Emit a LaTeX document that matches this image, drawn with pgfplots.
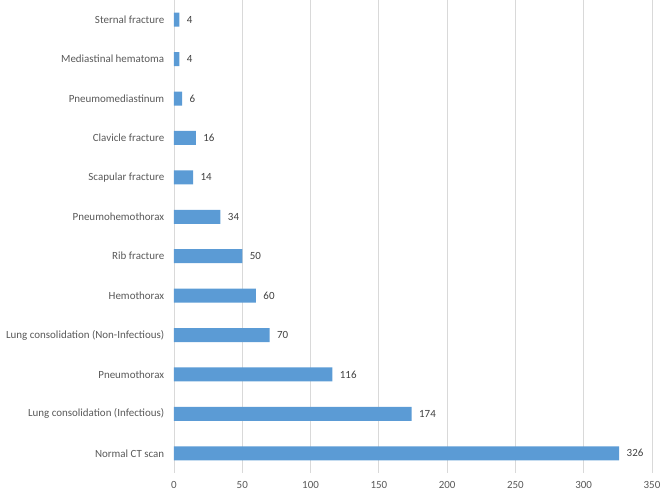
\documentclass[border=0pt]{standalone}
\usepackage{fontspec}
\setmainfont{Carlito}
\usepackage{pgfplots}
\pgfplotsset{compat=1.18}
\definecolor{barblue}{HTML}{5B9BD5}
\definecolor{gridgray}{HTML}{D9D9D9}
\definecolor{txtgray}{HTML}{595959}
\definecolor{lblgray}{HTML}{404040}
\begin{document}
\begin{tikzpicture}
\path[use as bounding box] (-174bp,-20bp) rectangle (498bp,473bp);
\begin{axis}[
  at={(0,0)}, anchor=south west,
  scale only axis,
  width=478bp, height=473bp,
  xbar, bar width=14bp,
  xmin=0, xmax=350,
  ymin=-0.5, ymax=11.5,
  xtick={0,50,...,350},
  ytick={0,...,11},
  yticklabels={Normal CT scan,Lung consolidation (Infectious),Pneumothorax,Lung consolidation (Non-Infectious),Hemothorax,Rib fracture,Pneumohemothorax,Scapular fracture,Clavicle fracture,Pneumomediastinum,Mediastinal hematoma,Sternal fracture},
  xmajorgrids, major grid style={gridgray, line width=0.8bp},
  axis line style={draw=none},
  tick style={draw=none},
  tick label style={font=\fontsize{11}{13}\selectfont, text=txtgray},
  /pgf/number format/assume math mode=true,
  xticklabel style={yshift=-5bp},
  yticklabel style={xshift=-2bp},
  nodes near coords,
  every node near coord/.append style={font=\fontsize{11}{13}\selectfont, text=lblgray, xshift=4bp},
  clip=false,
]
\addplot[fill=barblue, draw=none] coordinates {
(326,0) (174,1) (116,2) (70,3) (60,4) (50,5) (34,6) (14,7) (16,8) (6,9) (4,10) (4,11)
};
\end{axis}
\end{tikzpicture}
\end{document}
